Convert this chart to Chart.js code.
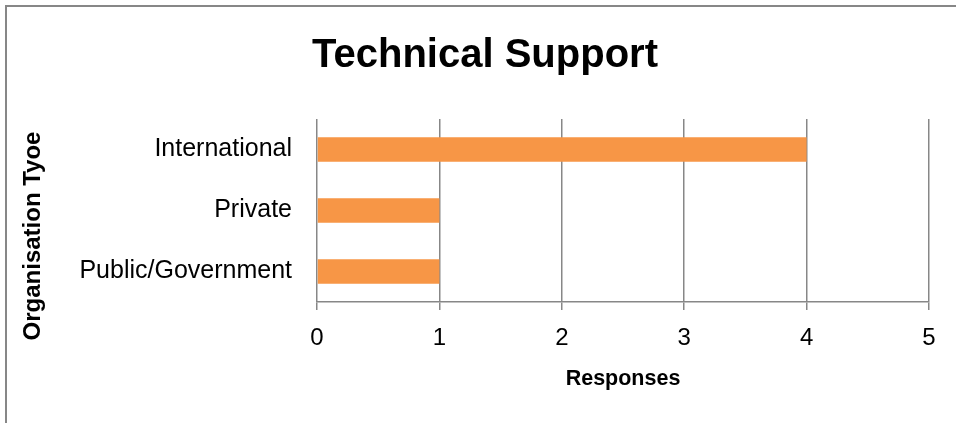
<!DOCTYPE html>
<html>
<head>
<meta charset="utf-8">
<title>Technical Support</title>
<script src="https://cdn.jsdelivr.net/npm/chart.js@4.4.1/dist/chart.umd.min.js"></script>
<style>
    body { margin: 0; background: #fff; }
    canvas { display: block; }
</style>
</head>
<body>
<canvas id="graficoSoporte" width="956" height="423"></canvas>
<script>
// Datos del grafico
const tituloGrafico = 'Technical Support';
const tituloEjeY = 'Organisation Tyoe';
const tituloEjeX = 'Responses';
const categorias = ['International', 'Private', 'Public/Government'];
const respuestas = [4, 1, 1];
const ejeX = { min: 0, max: 5, paso: 1 };

const gris = '#878787';
const fuente = "'Liberation Sans', Arial, sans-serif";

// Marco exterior, titulo y titulo del eje vertical
const decoraciones = {
    id: 'decoraciones',
    beforeDraw(chart) {
        const ctx = chart.ctx;
        ctx.save();
        ctx.strokeStyle = gris;
        ctx.lineWidth = 2;
        ctx.strokeRect(6, 6, 1000, 1000);
        ctx.restore();
    },
    afterDraw(chart) {
        const ctx = chart.ctx;
        ctx.save();
        ctx.fillStyle = '#000';
        ctx.font = 'bold 40px ' + fuente;
        ctx.textAlign = 'center';
        ctx.textBaseline = 'alphabetic';
        ctx.fillText(tituloGrafico, 485, 67);

        ctx.translate(33, 236);
        ctx.rotate(-Math.PI / 2);
        ctx.font = 'bold 24px ' + fuente;
        ctx.textBaseline = 'middle';
        ctx.fillText(tituloEjeY, 0, 0);
        ctx.restore();
    }
};

new Chart(document.getElementById('graficoSoporte'), {
    type: 'bar',
    data: {
        labels: categorias,
        datasets: [{
            label: tituloEjeX,
            data: respuestas,
            backgroundColor: '#F79646',
            borderWidth: 0,
            barPercentage: 0.4,
            categoryPercentage: 1
        }]
    },
    options: {
        indexAxis: 'y',
        responsive: false,
        animation: false,
        layout: {
            padding: { top: 119, left: 0, right: 27, bottom: 0 }
        },
        plugins: {
            legend: { display: false },
            title: { display: false },
            tooltip: { enabled: false }
        },
        scales: {
            x: {
                min: ejeX.min,
                max: ejeX.max,
                ticks: {
                    stepSize: ejeX.paso,
                    color: '#000',
                    padding: 14,
                    font: { family: fuente, size: 24 }
                },
                grid: {
                    color: gris,
                    lineWidth: 1.5,
                    tickLength: 8,
                    tickColor: gris
                },
                border: { color: gris, width: 1.5 },
                title: {
                    display: true,
                    text: tituloEjeX,
                    color: '#000',
                    font: { family: fuente, size: 21.5, weight: 'bold' },
                    padding: { top: 0, bottom: 31 }
                },
                afterFit(scale) { scale.height = 121; }
            },
            y: {
                ticks: {
                    color: '#000',
                    padding: 25,
                    font: { family: fuente, size: 25 }
                },
                grid: { display: false, drawTicks: false },
                border: { display: false },
                afterFit(scale) { scale.width = 317; }
            }
        }
    },
    plugins: [decoraciones]
});
</script>
</body>
</html>
